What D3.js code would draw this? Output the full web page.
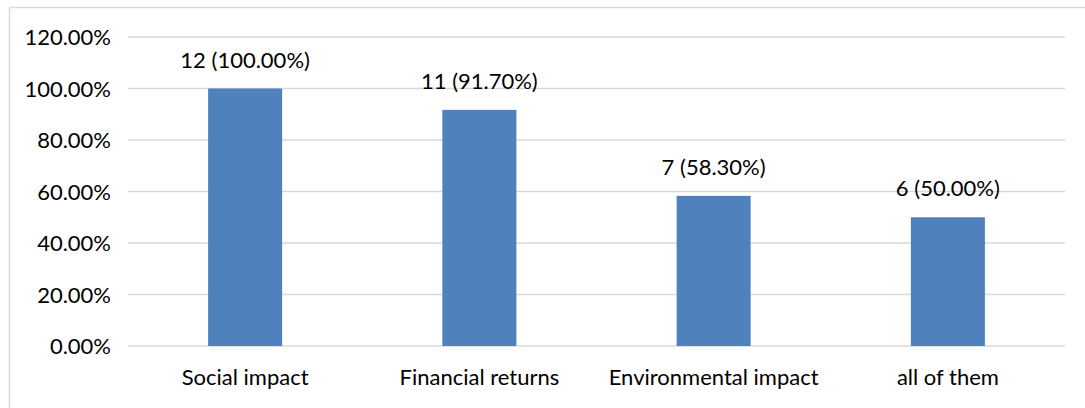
<!DOCTYPE html>
<html>
<head>
<meta charset="utf-8">
<script src="https://cdn.jsdelivr.net/npm/d3@7"></script>
<style>
  body { margin: 0; background: #fff; }
  svg text { font-family: Lato, "Open Sans", sans-serif; fill: #000; }
</style>
</head>
<body>
<div id="chart"></div>
<script>
var categories = ["Social impact", "Financial returns", "Environmental impact", "all of them"];
var counts = [12, 11, 7, 6];
var percents = [100.0, 91.7, 58.3, 50.0];
var yTicks = [0, 20, 40, 60, 80, 100, 120];

var W = 1085, H = 408;
var fs = "22px";
var svg = d3.select("#chart").append("svg")
  .attr("width", W).attr("height", H);

// outer chart border
svg.append("rect")
  .attr("x", 9.5).attr("y", 7.5)
  .attr("width", W + 10).attr("height", H + 10)
  .attr("fill", "none").attr("stroke", "#d9d9d9").attr("stroke-width", 1.5);

var x = d3.scaleBand().domain(categories).range([128, 1065])
  .paddingInner(0.684).paddingOuter(0.342);
var y = d3.scaleLinear().domain([0, 120]).range([346, 37]);

// gridlines
svg.append("g").selectAll("line").data(yTicks).enter().append("line")
  .attr("x1", 128).attr("x2", 1065)
  .attr("y1", function(d) { return y(d); })
  .attr("y2", function(d) { return y(d); })
  .attr("stroke", "#d9d9d9").attr("stroke-width", 1.5);

// y axis labels
var yAxis = d3.axisLeft(y).tickValues(yTicks).tickSize(0).tickPadding(17)
  .tickFormat(function(d) { return d.toFixed(2) + "%"; });
var ya = svg.append("g").attr("transform", "translate(128,0)").call(yAxis);
ya.select(".domain").remove();
ya.selectAll("text").style("font-size", fs).attr("dy", "0.35em");

// x axis labels
var xAxis = d3.axisBottom(x).tickSize(0).tickPadding(23);
var xa = svg.append("g").attr("transform", "translate(0,346)").call(xAxis);
xa.select(".domain").remove();
xa.selectAll("text").style("font-size", fs);

var data = categories.map(function(c, i) {
  return { cat: c, n: counts[i], p: percents[i] };
});

svg.append("g").selectAll("rect").data(data).enter().append("rect")
  .attr("x", function(d) { return x(d.cat); })
  .attr("y", function(d) { return y(d.p); })
  .attr("width", x.bandwidth())
  .attr("height", function(d) { return y(0) - y(d.p); })
  .attr("fill", "#4f81bd");

svg.append("g").selectAll("text").data(data).enter().append("text")
  .attr("x", function(d) { return x(d.cat) + x.bandwidth() / 2; })
  .attr("y", function(d) { return y(d.p) - 21; })
  .attr("text-anchor", "middle")
  .style("font-size", fs)
  .text(function(d) { return d.n + " (" + d.p.toFixed(2) + "%)"; });
</script>
</body>
</html>
